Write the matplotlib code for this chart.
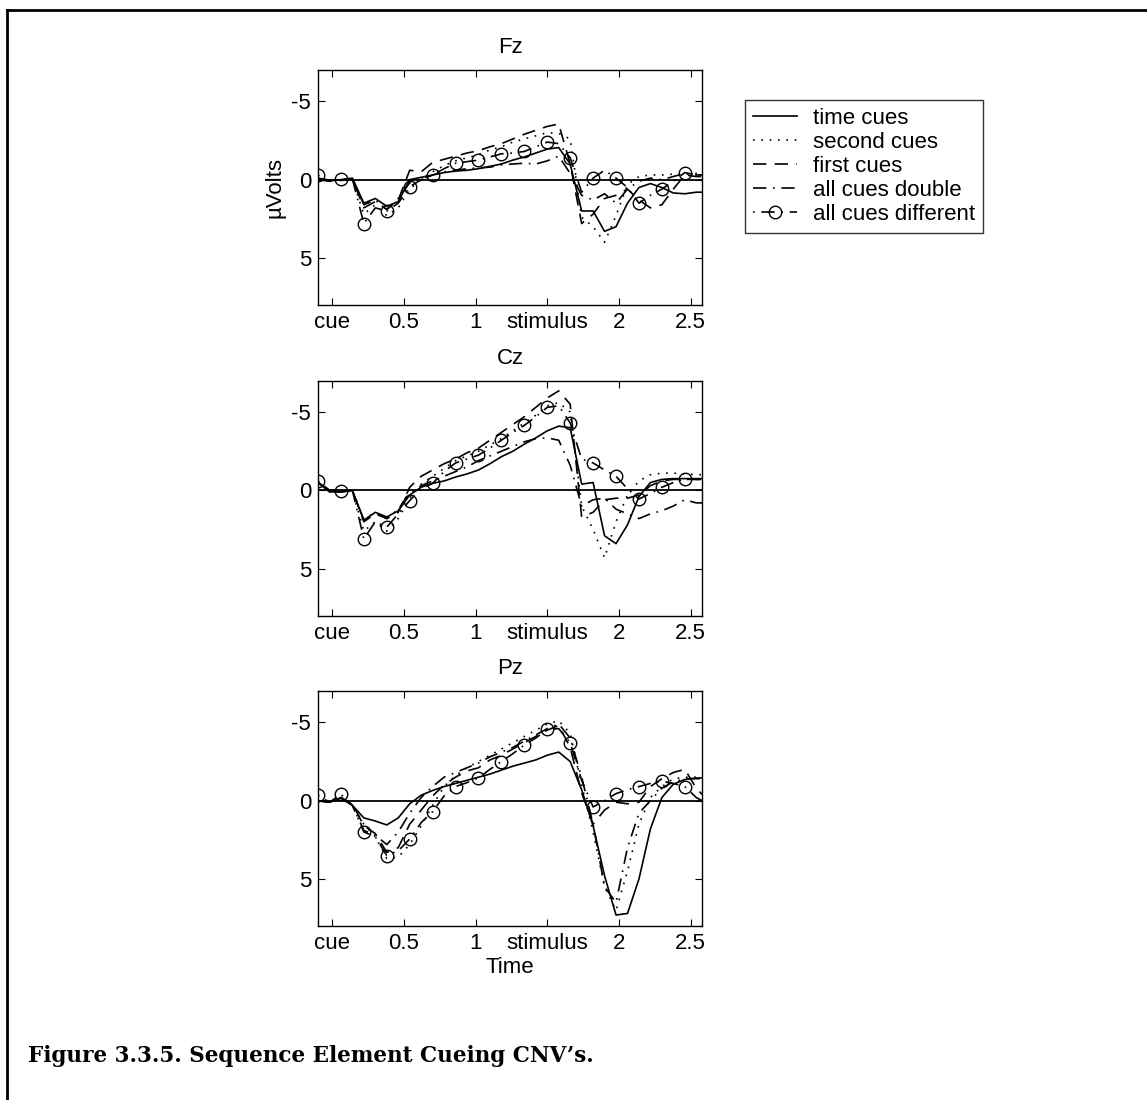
import numpy as np
import matplotlib
matplotlib.use("Agg")
import matplotlib.pyplot as plt
from matplotlib.lines import Line2D

plt.rcParams['font.family'] = ['Liberation Sans', 'DejaVu Sans']

# time axis (s), common to all channels
t = [-0.10, -0.02, 0.06, 0.14, 0.22, 0.30, 0.38, 0.46, 0.54, 0.62, 0.70,
     0.78, 0.86, 0.94, 1.02, 1.10, 1.18, 1.26, 1.34, 1.42, 1.50, 1.58,
     1.66, 1.74, 1.82, 1.90, 1.98, 2.06, 2.14, 2.22, 2.30, 2.38, 2.46,
     2.54, 2.58]

series_names = ["time cues", "second cues", "first cues",
                "all cues double", "all cues different"]
channels = ["Fz", "Cz", "Pz"]
xtick_pos = [0, 0.5, 1, 1.5, 2, 2.5]
xtick_labels = ["cue", "0.5", "1", "stimulus", "2", "2.5"]

# Fz
fz_time = [-0.1, 0.05, 0.0, -0.1, 1.5, 1.2, 1.7, 1.4, 0.0, -0.15, -0.3,
           -0.45, -0.55, -0.6, -0.7, -0.85, -1.0, -1.25, -1.45, -1.7, -1.95, -2.05,
           -1.0, 2.0, 2.0, 3.3, 3.0, 1.5, 0.5, 0.25, 0.5, 0.85, 0.9,
           0.8, 0.8]
fz_second = [-0.1, 0.1, 0.0, 0.0, 2.2, 1.6, 2.3, 1.8, 0.6, 0.0, -0.5,
             -0.9, -1.2, -1.4, -1.6, -1.9, -2.1, -2.4, -2.6, -2.8, -3.0, -2.95,
             -2.6, 2.4, 3.0, 4.0, 2.3, 0.3, -0.2, -0.3, -0.3, -0.35, -0.35,
             -0.4, -0.4]
fz_first = [0.0, 0.1, 0.05, -0.05, 1.8, 1.4, 1.9, 1.3, -0.6, -0.5, -1.1,
            -1.3, -1.5, -1.7, -1.85, -2.1, -2.3, -2.6, -2.9, -3.15, -3.4, -3.55,
            -1.0, 2.8, 2.2, 1.2, 1.0, 0.6, 1.3, 1.8, 1.6, 0.6, -0.3,
            -0.2, -0.2]
fz_double = [0.0, 0.05, 0.0, -0.05, 1.6, 1.3, 1.9, 1.2, 0.2, 0.0, -0.3,
             -0.5, -0.6, -0.7, -0.75, -0.8, -0.95, -1.0, -1.05, -1.0, -1.2, -1.5,
             -0.4, 1.0, 1.3, 0.9, 1.5, 0.6, 0.1, -0.1, 0.0, -0.2, -0.4,
             -0.3, -0.3]
fz_diff = [-0.3, 0.1, -0.05, -0.05, 2.8, 1.8, 2.0, 1.5, 0.45, 0.0, -0.3,
           -0.7, -1.05, -1.15, -1.25, -1.45, -1.65, -1.7, -1.8, -2.1, -2.4, -2.3,
           -1.4, 0.8, -0.1, -0.6, -0.1, 0.5, 1.5, 1.0, 0.6, 0.1, -0.45,
           -0.3, -0.3]

# Cz
cz_time = [-0.5, 0.1, 0.1, 0.0, 1.9, 1.4, 1.7, 1.3, 0.3, -0.2, -0.45,
           -0.6, -0.85, -1.05, -1.3, -1.7, -2.15, -2.5, -2.95, -3.35, -3.8, -4.1,
           -4.0, -0.4, -0.5, 2.9, 3.4, 2.2, 0.4, -0.5, -0.7, -0.75, -0.75,
           -0.75, -0.75]
cz_second = [-0.5, 0.0, 0.1, 0.0, 2.6, 2.0, 2.6, 1.8, 0.5, -0.4, -0.9,
             -1.4, -1.9, -2.2, -2.5, -2.9, -3.3, -3.8, -4.3, -4.8, -5.4, -5.6,
             -5.0, 1.0, 2.5, 4.3, 2.0, 0.3, -0.6, -1.0, -1.1, -1.1, -1.05,
             -1.0, -1.0]
cz_first = [-0.5, 0.0, 0.1, 0.0, 2.0, 1.5, 1.8, 1.4, -0.2, -0.9, -1.3,
            -1.7, -2.0, -2.4, -2.7, -3.2, -3.7, -4.2, -4.7, -5.3, -5.9, -6.35,
            -5.5, 1.7, 1.4, 0.6, 0.5, 0.5, 0.3, -0.3, -0.6, -0.7, -0.7,
            -0.7, -0.7]
cz_double = [-0.5, 0.0, 0.1, 0.0, 1.9, 1.4, 1.8, 1.2, 0.2, -0.3, -0.6,
             -0.9, -1.2, -1.5, -1.9, -2.2, -2.5, -2.8, -3.1, -3.3, -3.35, -3.2,
             -1.6, 1.0, 0.6, 0.5, 1.2, 1.5, 1.8, 1.5, 1.3, 1.0, 0.6,
             0.8, 0.8]
cz_diff = [-0.6, 0.0, 0.05, 0.0, 3.1, 2.0, 2.35, 1.5, 0.65, -0.1, -0.45,
           -1.2, -1.75, -2.0, -2.25, -2.7, -3.2, -3.7, -4.15, -4.7, -5.3, -5.4,
           -4.3, -2.0, -1.75, -1.3, -0.9, -0.1, 0.55, 0.2, -0.2, -0.5, -0.75,
           -0.7, -0.7]

# Pz
pz_time = [0.0, 0.1, -0.15, 0.3, 1.1, 1.3, 1.55, 1.1, 0.2, -0.35, -0.65,
           -0.9, -1.1, -1.3, -1.5, -1.7, -1.95, -2.2, -2.4, -2.6, -2.9, -3.1,
           -2.5, -0.7, 1.6, 4.8, 7.3, 7.2, 5.0, 1.8, -0.2, -1.05, -1.35,
           -1.45, -1.45]
pz_second = [0.0, 0.1, -0.2, 0.3, 1.5, 2.3, 3.7, 3.6, 2.8, 1.6, 0.3,
             -0.9, -1.6, -2.1, -2.5, -2.9, -3.3, -3.7, -4.1, -4.5, -4.9, -5.1,
             -4.3, -1.0, 2.0, 5.5, 7.0, 4.5, 1.5, -0.2, -0.9, -1.4, -1.5,
             -1.5, -1.5]
pz_first = [0.0, 0.1, -0.2, 0.2, 1.6, 2.1, 3.3, 3.0, 1.5, 0.6, -0.3,
            -1.0, -1.5, -1.9, -2.1, -2.6, -2.9, -3.3, -3.7, -4.1, -4.5, -4.8,
            -3.4, -0.5, 1.5, 0.6, 0.1, 0.2, 0.1, -0.9, -1.4, -1.8, -2.0,
            -0.8, -0.4]
pz_double = [0.0, 0.1, -0.2, 0.3, 1.9, 2.2, 2.8, 2.0, 0.8, -0.2, -0.9,
             -1.5, -1.8, -2.1, -2.4, -2.8, -3.1, -3.4, -3.8, -4.2, -4.6, -4.9,
             -4.0, -1.5, 1.5, 5.5, 6.5, 3.0, 0.8, 0.0, -0.8, -1.2, -1.4,
             -1.4, -1.4]
pz_diff = [-0.35, 0.1, -0.4, 0.3, 2.0, 2.3, 3.5, 3.2, 2.45, 1.4, 0.7,
           -0.3, -0.9, -1.15, -1.45, -2.0, -2.5, -3.0, -3.55, -4.0, -4.55, -4.6,
           -3.7, -1.3, 0.4, 0.0, -0.45, -0.7, -0.9, -1.1, -1.25, -1.1, -0.9,
           -0.2, 0.0]

data = {
    "Fz": [fz_time, fz_second, fz_first, fz_double, fz_diff],
    "Cz": [cz_time, cz_second, cz_first, cz_double, cz_diff],
    "Pz": [pz_time, pz_second, pz_first, pz_double, pz_diff],
}

styles = [
    dict(linestyle="-"),
    dict(linestyle=(0, (1, 4))),
    dict(linestyle=(0, (8, 5))),
    dict(linestyle=(0, (8, 4, 1, 4))),
    dict(linestyle=(0, (1, 4, 8, 4)), marker="o", markersize=9,
         markerfacecolor="none", markevery=slice(0, 33, 2)),
]

W, H = 1147, 1100
fs = 16
fig = plt.figure(figsize=(W / 100, H / 100), dpi=100)

# frame of the page (only top and left edges are visible in the crop)
fig.add_artist(Line2D([7 / W, 7 / W], [0, 1 - 10 / H], transform=fig.transFigure,
                      color="black", lw=2))
fig.add_artist(Line2D([7 / W, 1], [1 - 10 / H, 1 - 10 / H], transform=fig.transFigure,
                      color="black", lw=2))

tops = [70, 380.7, 691]
ax_h = 235
for ch, top in zip(channels, tops):
    ax = fig.add_axes([318 / W, 1 - (top + ax_h) / H, 384 / W, ax_h / H])
    ax.axhline(0, color="black", lw=1.3)
    for vals, st in zip(data[ch], styles):
        ax.plot(t, vals, color="black", lw=1.2, **st)
    ax.set_xlim(-0.1, 2.58)
    ax.set_ylim(8, -7)
    ax.set_yticks([-5, 0, 5])
    ax.set_yticklabels(["-5", "0", "5"])
    ax.set_xticks(xtick_pos)
    ax.set_xticklabels(xtick_labels)
    ax.tick_params(direction="in", top=True, right=True, labelsize=fs,
                   length=5, width=0.8, pad=5)
    for s in ax.spines.values():
        s.set_linewidth(1.0)
    ax.set_title(ch, fontsize=fs, pad=12)
    if ch == "Fz":
        ax.set_ylabel("µVolts", fontsize=fs, labelpad=4)
    if ch == "Pz":
        ax.set_xlabel("Time", fontsize=fs, labelpad=2)

leg_handles = [Line2D([], [], color="black", lw=1.2,
                      **{k: v for k, v in st.items() if k != "markevery"})
               for st in styles]
leg = fig.legend(leg_handles, series_names, loc="upper left",
                 bbox_to_anchor=(745 / W, 1 - 100 / H), fontsize=fs,
                 frameon=True, fancybox=False, edgecolor="black",
                 handlelength=2.0, borderpad=0.35, labelspacing=0.14,
                 handletextpad=0.7, borderaxespad=0)
leg.get_frame().set_linewidth(1.0)

fig.text(28 / W, 1 - 1062 / H, "Figure 3.3.5. Sequence Element Cueing CNV’s.",
         fontsize=15.5, fontweight="bold", family="DejaVu Serif",
         va="baseline", ha="left")

fig.savefig("out.png", dpi=100, facecolor="white")
